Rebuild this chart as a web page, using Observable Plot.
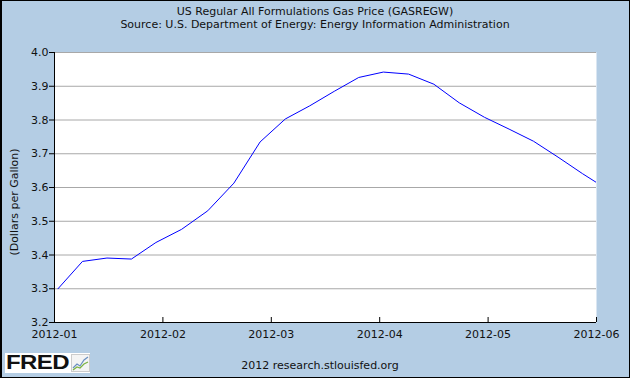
<!DOCTYPE html>
<html>
<head>
<meta charset="utf-8">
<script src="https://cdn.jsdelivr.net/npm/d3@7"></script>
<script src="https://cdn.jsdelivr.net/npm/@observablehq/plot@0.6"></script>
<style>
  html, body { margin: 0; padding: 0; background: #b4cde4; }
  #wrap { position: relative; width: 630px; height: 378px; background: #b4cde4; overflow: hidden;
          font-family: "DejaVu Sans", sans-serif; color: #111; }
  #border { position: absolute; left: 0; top: 0; width: 630px; height: 378px; box-sizing: border-box;
            border: 1px solid #000; border-left-width: 2px; pointer-events: none; }
  .t { position: absolute; left: 0; width: 630px; text-align: center; font-size: 11px; white-space: nowrap; }
  #ylabel { position: absolute; left: 14px; top: 202px; font-size: 11px; white-space: nowrap;
            transform: translate(-50%, -50%) rotate(-90deg); }
  #chart { position: absolute; left: 0; top: 40px; }
  #logo { position: absolute; left: 5px; top: 353px; width: 85px; height: 20px; background: #fff; }
  #logo span { position: absolute; left: 1px; top: -2px; font-family: "Liberation Sans", Arial, sans-serif;
               font-weight: bold; font-size: 20px; letter-spacing: -0.5px; color: #111;
               transform-origin: 0 0; transform: scaleX(1.2); }
  #logo svg { position: absolute; left: 66px; top: 1px; }
</style>
</head>
<body>
<div id="wrap">
  <div class="t" style="top:5px">US Regular All Formulations Gas Price (GASREGW)</div>
  <div class="t" style="top:18px">Source: U.S. Department of Energy: Energy Information Administration</div>
  <div id="ylabel">(Dollars per Gallon)</div>
  <div id="chart"></div>
  <div id="logo"><span>FRED</span>
    <svg width="19" height="18" viewBox="0 0 19 18">
      <rect x="0.5" y="0.5" width="18" height="17" fill="#f4f4f4" stroke="#ccc"/>
      <polyline points="2,14 6,10 9,12 13,6 17,3" fill="none" stroke="#6a8fc0" stroke-width="1.2"/>
      <polyline points="2,16 6,13 9,14 13,10 17,8" fill="none" stroke="#7cb342" stroke-width="1.2"/>
    </svg>
  </div>
  <div class="t" style="top:359px; left:5px">2012 research.stlouisfed.org</div>
  <div id="border"></div>
</div>
<script>
// Weekly observations (week of), dollars per gallon
const dates = ["2012-01-02","2012-01-09","2012-01-16","2012-01-23","2012-01-30",
               "2012-02-06","2012-02-13","2012-02-20","2012-02-27",
               "2012-03-05","2012-03-12","2012-03-19","2012-03-26",
               "2012-04-02","2012-04-09","2012-04-16","2012-04-23","2012-04-30",
               "2012-05-07","2012-05-14","2012-05-21","2012-05-28","2012-06-04"];
const prices = [3.300, 3.381, 3.391, 3.388, 3.437,
                3.476, 3.531, 3.613, 3.735,
                3.803, 3.842, 3.885, 3.926,
                3.942, 3.936, 3.906, 3.851, 3.808,
                3.773, 3.737, 3.690, 3.641, 3.595];
const xTickDates = ["2012-01-01","2012-02-01","2012-03-01","2012-04-01","2012-05-01","2012-06-01"];
const xTickLabels = ["2012-01","2012-02","2012-03","2012-04","2012-05","2012-06"];
const yTicks = [3.2, 3.3, 3.4, 3.5, 3.6, 3.7, 3.8, 3.9, 4.0];
const yTickLabels = ["3.2","3.3","3.4","3.5","3.6","3.7","3.8","3.9","4.0"];

const data = dates.map((d, i) => ({date: new Date(d), value: prices[i]}));
const months = xTickDates.map(d => new Date(d));

const chart = Plot.plot({
  width: 630,
  height: 305,
  marginLeft: 54,
  marginRight: 34,
  marginTop: 12,
  marginBottom: 23,
  style: {background: "transparent", fontFamily: "DejaVu Sans, sans-serif", fontSize: "11px", color: "#111"},
  x: {type: "utc", domain: months},
  y: {domain: [3.2, 4.0]},
  marks: [
    Plot.frame({fill: "white", stroke: null}),
    Plot.ruleY(yTicks.slice(1), {stroke: "#a8a8a8", strokeWidth: 1}),
    Plot.line(data, {x: "date", y: "value", stroke: "#0000ff", strokeWidth: 1, clip: true}),
    Plot.ruleX([months[0]], {stroke: "black", strokeWidth: 1}),
    Plot.ruleY([3.2], {stroke: "black", strokeWidth: 1}),
    Plot.axisY({ticks: yTicks, tickSize: 5, tickPadding: 1, stroke: "black",
                tickFormat: (d, i) => yTickLabels[i], label: null, fontSize: 11}),
    Plot.axisX({ticks: months, tickSize: 5, text: null, dy: -5, stroke: "black", label: null}),
    Plot.axisX({ticks: months, tickSize: 0, tickPadding: 8,
                tickFormat: (d, i) => xTickLabels[i], label: null, fontSize: 11})
  ]
});
document.getElementById("chart").appendChild(chart);
</script>
</body>
</html>
